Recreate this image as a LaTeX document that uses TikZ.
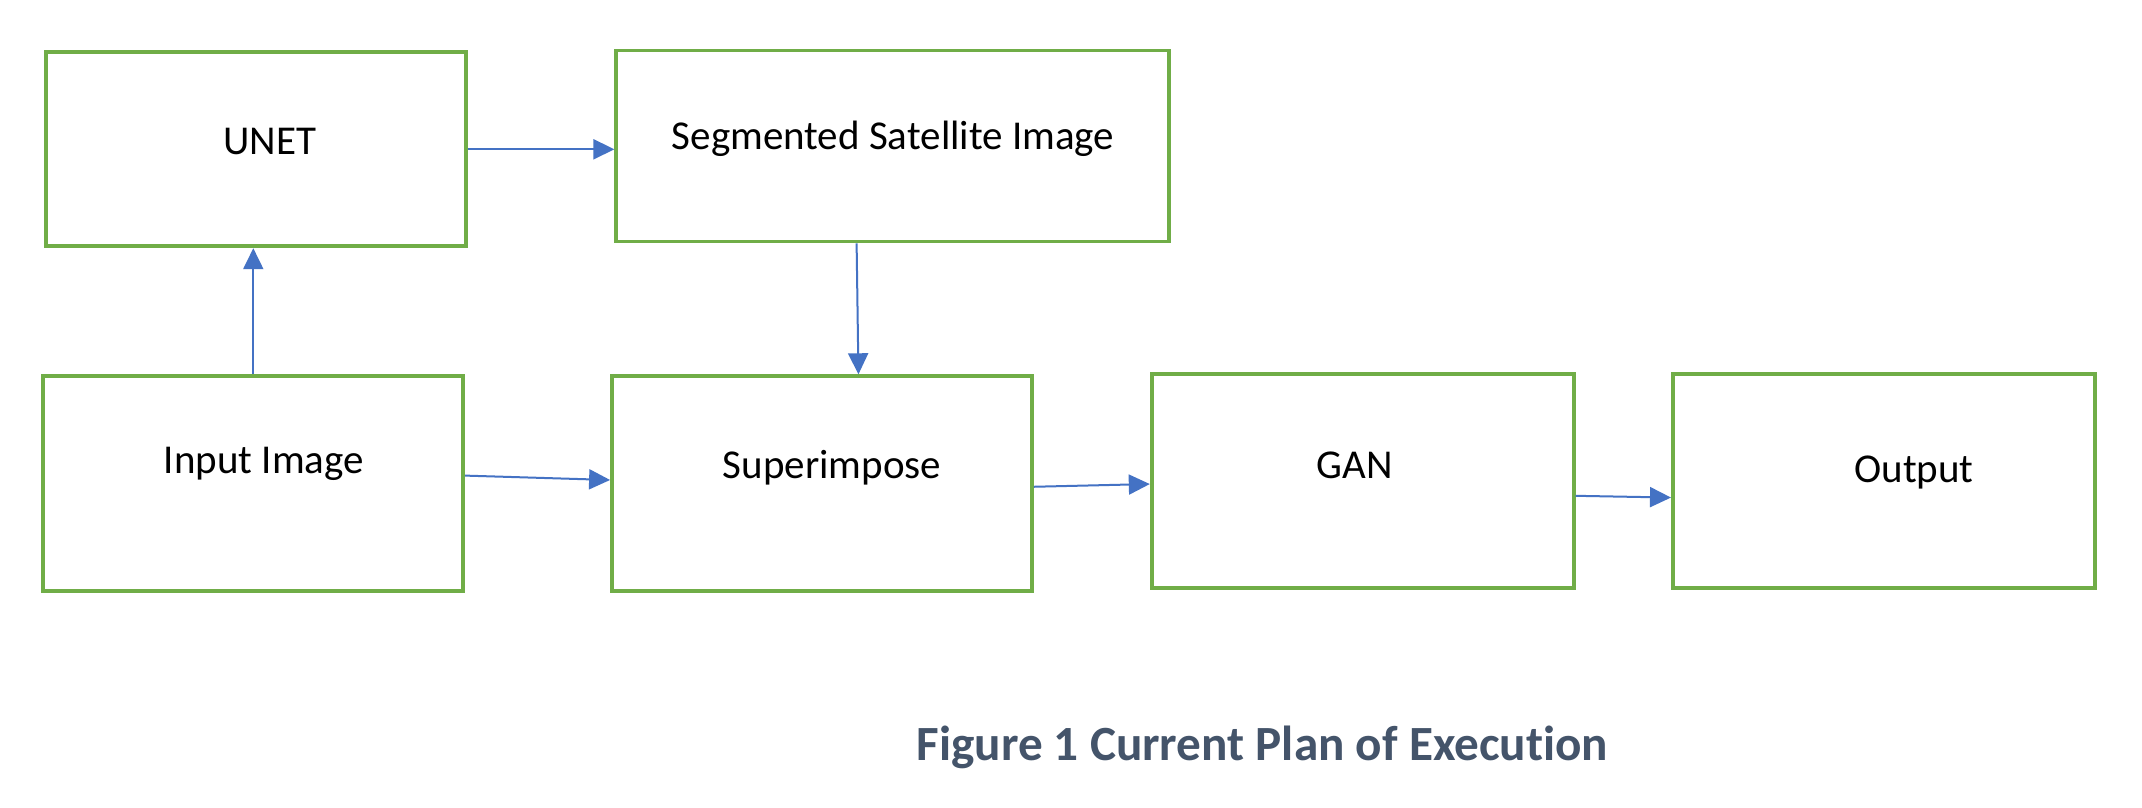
\documentclass[tikz,border=0pt]{standalone}
\usepackage{fontspec}
\setmainfont{Carlito}[Ligatures=NoCommon]
\usetikzlibrary{arrows.meta,calc}
\definecolor{boxgreen}{HTML}{70AD47}
\definecolor{arrowblue}{HTML}{4472C4}
\definecolor{captioncol}{HTML}{44546A}
\begin{document}
\begin{tikzpicture}[x=0.5pt,y=-0.5pt,
  box/.style={draw=boxgreen, line width=1.9pt, rectangle, inner sep=0pt, fill=white},
  lbl/.style={font=\fontsize{20.5}{24}\selectfont, anchor=base, inner sep=0pt},
  flow/.style={draw=arrowblue, line width=1pt, -{Triangle[length=10.5pt,width=10pt]}},
  ]
\fill[white] (0,0) rectangle (2142,808);
\useasboundingbox (0,0) rectangle (2142,808);
\node[box, minimum width=210pt, minimum height=97pt] (unet) at (255.6,149.3) {};
\node[box, minimum width=276.5pt, minimum height=95.5pt] (seg) at (892.8,146) {};
\node[box, minimum width=210pt, minimum height=107.5pt] (input) at (253.3,483.7) {};
\node[box, minimum width=210pt, minimum height=107.5pt] (sup) at (822,483.7) {};
\node[box, minimum width=211pt, minimum height=107pt] (gan) at (1362.7,481) {};
\node[box, minimum width=211pt, minimum height=107pt] (out) at (1883.9,481) {};

\node[lbl] (tunet) at (270,155) {UNET};
\node[lbl] (tseg) at (893,149.5) {Segmented Satellite Image};
\node[lbl] (tinput) at (264,473) {Input Image};
\node[lbl] (tsup) at (832,478) {Superimpose};
\node[lbl] (tgan) at (1355,478.5) {GAN};
\node[lbl] (tout) at (1914,482) {Output};

\draw[flow] (unet.east) -- (unet.east -| seg.west);
\draw[flow] (input.north) -- (input.north |- unet.south);
\draw[flow] ($(seg.south west)!0.435!(seg.south east)$) -- ($(sup.north west)!0.586!(sup.north east)$);
\draw[flow] ($(input.north east)!0.463!(input.south east)$) -- ($(sup.north west)!0.483!(sup.south west)$);
\draw[flow] ($(sup.north east)!0.514!(sup.south east)$) -- ($(gan.north west)!0.514!(gan.south west)$);
\draw[flow] ($(gan.north east)!0.568!(gan.south east)$) -- ($(out.north west)!0.576!(out.south west)$);

\node[font=\fontsize{24.6}{30}\selectfont\bfseries, text=captioncol, anchor=base, inner sep=0pt] (cap) at (1262.5,760) {Figure 1 Current Plan of Execution};
\end{tikzpicture}
\end{document}
